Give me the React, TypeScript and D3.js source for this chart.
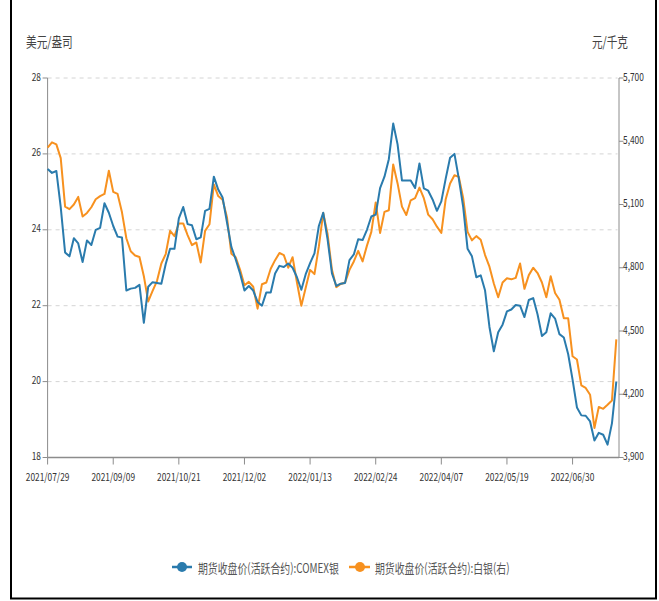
import * as d3 from "d3"

// x-axis tick labels, one every 30 trading days
const dateTicks = [
  "2021/07/29", "2021/09/09", "2021/10/21", "2021/12/02", "2022/01/13",
  "2022/02/24", "2022/04/07", "2022/05/19", "2022/06/30",
]
const daysPerTick = 30
const lastDay = 261
const sampleStep = 2 // one value every 2 trading days

const leftTicks = [18, 20, 22, 24, 26, 28]
const rightTicks = [3900, 4200, 4500, 4800, 5100, 5400, 5700]

// 期货收盘价(活跃合约):COMEX银, 美元/盎司
const comexSilver = [
  25.6, 25.5, 25.55, 24.6, 23.4, 23.3, 23.78, 23.64, 23.15, 23.72,
  23.6, 24.0, 24.05, 24.7, 24.45, 24.1, 23.82, 23.8, 22.4, 22.45,
  22.47, 22.55, 21.55, 22.5, 22.62, 22.6, 22.58, 23.1, 23.5, 23.5,
  24.3, 24.6, 24.15, 24.12, 23.75, 23.8, 24.5, 24.55, 25.4, 25.06,
  24.85, 24.2, 23.55, 23.22, 22.85, 22.4, 22.52, 22.4, 22.1, 22.0,
  22.35, 22.35, 22.85, 23.05, 23.02, 23.11, 23.0, 22.75, 22.42, 22.83,
  23.12, 23.38, 24.1, 24.45, 23.75, 22.85, 22.52, 22.58, 22.6, 23.2,
  23.35, 23.75, 23.73, 24.0, 24.35, 24.4, 25.1, 25.4, 25.86, 26.8,
  26.25, 25.3, 25.3, 25.3, 25.1, 25.75, 25.09, 25.03, 24.8, 24.5,
  24.75, 25.35, 25.9, 26.0, 25.35, 24.6, 23.5, 23.3, 22.75, 22.8,
  22.4, 21.44, 20.8, 21.3, 21.5, 21.85, 21.9, 22.02, 22.0, 21.7,
  22.15, 22.2, 21.77, 21.2, 21.3, 21.8, 21.66, 21.25, 21.16, 20.72,
  20.05, 19.32, 19.11, 19.1, 18.95, 18.45, 18.65, 18.6, 18.34, 18.9,
  20.0,
]

// 期货收盘价(活跃合约):白银(右), 元/千克
const shfeSilver = [
  5370, 5395, 5385, 5320, 5090, 5078, 5100, 5136, 5043, 5060,
  5087, 5125, 5140, 5150, 5260, 5160, 5150, 5063, 4940, 4878,
  4858, 4851, 4760, 4640, 4690, 4737, 4820, 4865, 4975, 4950,
  5010, 5010, 4955, 4907, 4920, 4825, 4975, 5006, 5195, 5140,
  5122, 5040, 4867, 4850, 4790, 4717, 4733, 4710, 4606, 4722,
  4730, 4795, 4836, 4870, 4860, 4800, 4850, 4730, 4620, 4705,
  4790, 4770, 4900, 5060, 4960, 4790, 4708, 4723, 4730, 4790,
  4830, 4880, 4830, 4905, 4970, 5110, 4965, 5065, 5073, 5290,
  5200, 5090, 5050, 5120, 5130, 5180, 5130, 5052, 5030, 4995,
  4965, 5125, 5200, 5239, 5231, 5130, 4970, 4930, 4950, 4933,
  4860, 4805, 4725, 4660, 4730, 4750, 4745, 4752, 4820, 4700,
  4765, 4800, 4775, 4730, 4660, 4760, 4680, 4648, 4560, 4560,
  4380, 4365, 4242, 4230, 4198, 4040, 4140, 4131, 4150, 4170,
  4460,
]

const blue = "#2a7bad"
const orange = "#f7911f"
const font = "'Noto Sans CJK SC', 'Noto Sans', sans-serif"

function Txt({ x, y, anchor = "start", size = 11, fill = "#333", children }: any) {
  return (
    <text
      transform={`translate(${x},${y}) scale(0.76,1)`}
      textAnchor={anchor}
      dominantBaseline="central"
      fontSize={size}
      fill={fill}
      fontFamily={font}
    >
      {children}
    </text>
  )
}

export default function App() {
  const width = 659
  const height = 601
  const plot = { left: 47.6, right: 618.5, top: 78, bottom: 457.5 }

  const x = d3.scaleLinear().domain([0, lastDay]).range([plot.left, plot.right])
  const yLeft = d3.scaleLinear().domain([18, 28]).range([plot.bottom, plot.top])
  const yRight = d3.scaleLinear().domain([3900, 5700]).range([plot.bottom, plot.top])

  const blueLine = d3
    .line<number>()
    .x((_, i) => x(i * sampleStep))
    .y((d) => yLeft(d))
  const orangeLine = d3
    .line<number>()
    .x((_, i) => x(i * sampleStep))
    .y((d) => yRight(d))

  const axisColor = "#8c8c8c"

  return (
    <svg width={width} height={height} style={{ position: "absolute", left: 0, top: 0, background: "#fff" }}>
      {/* frame */}
      <line x1={11} y1={0} x2={11} y2={599} stroke="#000" strokeWidth={2} />
      <line x1={656} y1={0} x2={656} y2={599} stroke="#000" strokeWidth={2} />
      <line x1={10} y1={598.5} x2={657} y2={598.5} stroke="#000" strokeWidth={2} />

      {/* unit labels */}
      <Txt x={26} y={41} size={14} fill="#444">美元/盎司</Txt>
      <Txt x={628} y={41} size={14} fill="#444" anchor="end">元/千克</Txt>

      {/* grid */}
      {leftTicks.slice(1).map((t) => (
        <line key={t} x1={plot.left} x2={plot.right - 1} y1={yLeft(t)} y2={yLeft(t)}
          stroke="#d4d4d4" strokeDasharray="4,4" />
      ))}

      {/* left axis */}
      <line x1={plot.left} x2={plot.left} y1={plot.top} y2={plot.bottom} stroke={axisColor} />
      {leftTicks.map((t) => (
        <g key={t}>
          <line x1={plot.left - 5} x2={plot.left} y1={yLeft(t)} y2={yLeft(t)} stroke={axisColor} />
          <Txt x={41} y={yLeft(t) - 2} anchor="end" size={11}>{t}</Txt>
        </g>
      ))}

      {/* right axis */}
      <line x1={plot.right + 0.5} x2={plot.right + 0.5} y1={plot.top} y2={plot.bottom} stroke={axisColor} />
      {rightTicks.map((t) => (
        <g key={t}>
          <line x1={plot.right + 0.5} x2={plot.right + 5} y1={yRight(t)} y2={yRight(t)} stroke={axisColor} />
          <Txt x={623} y={yRight(t) - 2} size={11}>{d3.format(",")(t)}</Txt>
        </g>
      ))}

      {/* bottom axis */}
      <line x1={plot.left} x2={plot.right + 0.5} y1={plot.bottom} y2={plot.bottom} stroke={axisColor} strokeWidth={1.5} />
      {dateTicks.map((label, k) => (
        <g key={label}>
          <line x1={x(k * daysPerTick)} x2={x(k * daysPerTick)} y1={plot.bottom} y2={plot.bottom + 7} stroke={axisColor} />
          <Txt x={x(k * daysPerTick)} y={plot.bottom + 19} anchor="middle" size={11}>{label}</Txt>
        </g>
      ))}

      {/* series */}
      <path d={orangeLine(shfeSilver) || ""} fill="none" stroke={orange} strokeWidth={2} strokeLinejoin="round" />
      <path d={blueLine(comexSilver) || ""} fill="none" stroke={blue} strokeWidth={2} strokeLinejoin="round" />

      {/* legend */}
      <g>
        <line x1={172} x2={192} y1={567} y2={567} stroke={blue} strokeWidth={2.5} />
        <circle cx={182} cy={567} r={5} fill={blue} />
        <Txt x={198} y={567} size={13} fill="#555">期货收盘价(活跃合约):COMEX银</Txt>
        <line x1={349} x2={370} y1={567} y2={567} stroke={orange} strokeWidth={2.5} />
        <circle cx={360} cy={567} r={5} fill={orange} />
        <Txt x={375} y={567} size={13} fill="#555">期货收盘价(活跃合约):白银(右)</Txt>
      </g>
    </svg>
  )
}
